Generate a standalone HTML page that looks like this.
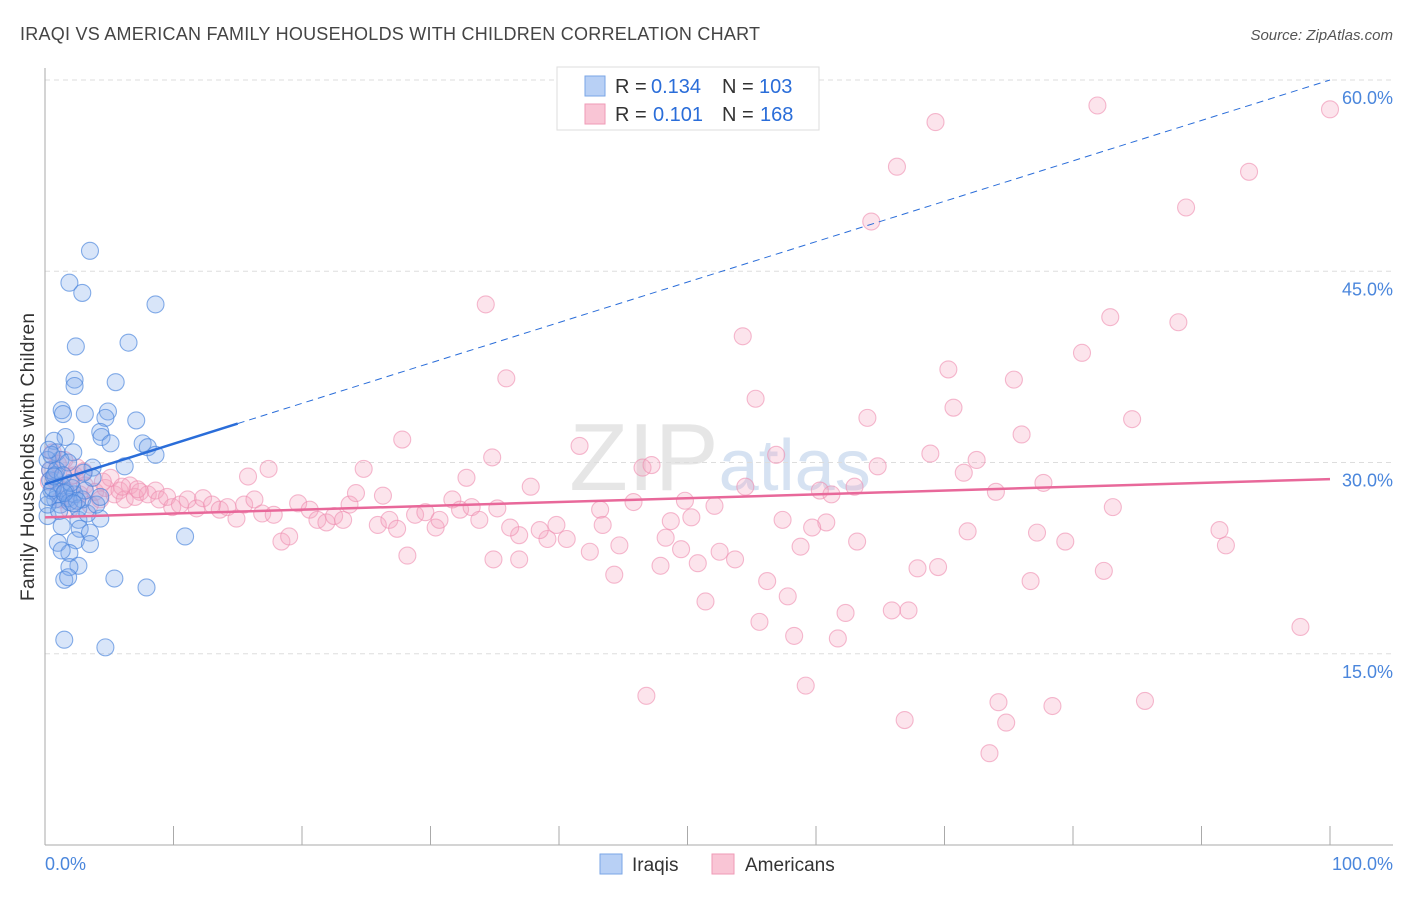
<!DOCTYPE html>
<html><head><meta charset="utf-8"><style>
body{margin:0;background:#fff;font-family:"Liberation Sans",sans-serif;}
svg text{font-family:"Liberation Sans",sans-serif;}
</style></head><body>
<svg id="chart" width="1406" height="892" viewBox="0 0 1406 892">
<text x="20" y="40" font-size="18" fill="#444" textLength="740">IRAQI VS AMERICAN FAMILY HOUSEHOLDS WITH CHILDREN CORRELATION CHART</text>
<text x="1393" y="40" font-size="15" fill="#555" text-anchor="end" font-style="italic">Source: ZipAtlas.com</text>
<text x="720" y="490" font-size="96" fill="#e6e6e6" text-anchor="middle" font-family="Liberation Serif">ZIP<tspan fill="#d6e2f2" font-family="Liberation Sans" font-size="72">atlas</tspan></text>
<g id="grid"></g>
<g id="axes"></g>
<g id="pts"></g>
<g id="trend"></g>
<text transform="translate(34,457) rotate(-90)" font-size="19" fill="#333" text-anchor="middle" textLength="288">Family Households with Children</text>
<g>
<rect x="557" y="67" width="262" height="63" fill="#fff" stroke="#ddd"/>
<rect x="585" y="76" width="20" height="20" fill="#b8d0f5" stroke="#7aa6e6"/>
<rect x="585" y="104" width="20" height="20" fill="#f9c5d5" stroke="#ef9ab6"/>
<text x="615" y="93" font-size="20" fill="#333">R =</text><text x="651" y="93" font-size="20" fill="#2a6dd9">0.134</text>
<text x="722" y="93" font-size="20" fill="#333">N =</text><text x="759" y="93" font-size="20" fill="#2a6dd9">103</text>
<text x="615" y="121" font-size="20" fill="#333">R =</text><text x="653" y="121" font-size="20" fill="#2a6dd9">0.101</text>
<text x="722" y="121" font-size="20" fill="#333">N =</text><text x="760" y="121" font-size="20" fill="#2a6dd9">168</text>
</g>
<g>
<rect x="600" y="854" width="22" height="20" fill="#b8d0f5" stroke="#7aa6e6"/>
<text x="632" y="871" font-size="19" fill="#333">Iraqis</text>
<rect x="712" y="854" width="22" height="20" fill="#f9c5d5" stroke="#ef9ab6"/>
<text x="745" y="871" font-size="19" fill="#333">Americans</text>
</g>
</svg>
<script>
const yTicks=[15,30,45,60];
const yTickLabels=["15.0%","30.0%","45.0%","60.0%"];
const xTickLabels=["0.0%","100.0%"];
const blueX=[3.5,1.9,2.9,8.6,6.5,2.4,2.3,2.3,5.5,1.3,1.4,3.1,4.9,4.7,7.1,1.6,4.3,4.4,5.1,7.6,8.0,0.7,0.9,8.6,2.2,6.2,3.7,0.4,1.2,4.3,2.6,1.3,2.7,3.5,2.4,1.0,3.5,1.9,1.3,2.6,1.9,1.5,1.8,5.4,7.9,10.9,1.5,4.7,0.2,0.4,0.5,0.8,1.0,1.2,1.3,1.6,1.8,1.9,2.1,2.3,2.6,2.9,3.1,3.3,3.7,4.0,4.3,0.8,0.2,0.5,0.9,1.8,0.2,0.3,0.6,1.1,1.4,2.0,2.5,3.0,0.3,0.7,1.5,2.2];
const blueY=[46.6,44.1,43.3,42.4,39.4,39.1,36.5,36.0,36.3,34.1,33.8,33.8,34.0,33.5,33.3,32.0,32.4,32.0,31.5,31.5,31.2,31.7,30.8,30.6,30.8,29.7,29.6,29.4,30.2,25.6,25.5,25.0,24.8,24.5,23.9,23.7,23.6,22.9,23.1,21.9,21.8,20.8,21.0,20.9,20.2,24.2,16.1,15.5,25.8,28.6,27.8,27.1,27.5,26.7,28.2,27.7,27.2,26.9,28.0,27.5,26.4,27.1,27.8,26.0,28.8,26.7,27.3,29.0,30.2,30.6,29.4,30.0,26.7,27.3,28.0,26.2,29.0,28.4,27.0,29.2,31.0,28.9,27.6,26.8];
const pinkX=[100,81.9,69.3,66.3,93.7,88.8,64.3,34.3,54.3,82.9,88.2,80.7,35.9,70.3,75.4,55.3,70.7,64.0,84.6,76.0,27.8,68.9,56.9,34.8,72.5,46.5,47.2,64.8,17.4,15.8,24.8,32.8,71.5,77.7,37.8,54.5,60.3,63.0,74.0,61.2,41.6,49.8,52.1,83.1,43.2,45.8,50.3,57.4,60.8,59.7,48.7,71.8,77.2,91.4,91.9,79.4,63.2,48.3,49.5,58.8,44.7,52.5,53.7,50.8,42.4,40.6,39.1,38.5,36.9,34.9,36.9,28.2,47.9,44.3,67.9,69.5,82.4,76.7,56.2,57.8,51.4,62.3,65.9,67.2,55.6,58.3,61.7,97.7,46.8,59.2,74.2,78.4,85.6,66.9,74.8,73.5,0.4,0.8,1.2,1.6,1.9,2.3,2.7,3.1,3.5,3.9,4.3,4.7,5.1,5.4,5.8,6.2,6.6,7.0,7.4,8.0,8.6,8.9,9.5,9.9,10.5,11.1,11.8,12.3,13.0,13.6,14.2,14.9,15.5,16.3,16.9,17.8,18.4,19.0,19.7,20.6,21.2,21.9,22.5,23.2,23.7,24.2,25.9,26.3,26.8,27.4,28.8,29.6,30.4,30.7,31.7,32.3,33.2,33.8,35.2,36.2,39.8,43.4,1.5,0.6,1.0,2.0,3.0,4.5,6.0,7.2,0.3,2.5];
const pinkY=[57.7,58.0,56.7,53.2,52.8,50.0,48.9,42.4,39.9,41.4,41.0,38.6,36.6,37.3,36.5,35.0,34.3,33.5,33.4,32.2,31.8,30.7,30.6,30.4,30.2,29.6,29.8,29.7,29.5,28.9,29.5,28.8,29.2,28.4,28.1,28.1,27.8,28.1,27.7,27.5,31.3,27.0,26.6,26.5,26.3,26.9,25.7,25.5,25.3,24.9,25.4,24.6,24.5,24.7,23.5,23.8,23.8,24.1,23.2,23.4,23.5,23.0,22.4,22.1,23.0,24.0,24.0,24.7,24.3,22.4,22.4,22.7,21.9,21.2,21.7,21.8,21.5,20.7,20.7,19.5,19.1,18.2,18.4,18.4,17.5,16.4,16.2,17.1,11.7,12.5,11.2,10.9,11.3,9.8,9.6,7.2,29.4,28.6,27.1,27.8,26.3,29.0,27.5,28.2,26.7,27.7,27.1,28.0,28.8,27.5,27.8,27.1,28.2,27.3,27.7,27.5,27.8,27.1,27.3,26.5,26.7,27.1,26.4,27.2,26.7,26.3,26.5,25.6,26.7,27.1,26.0,25.9,23.8,24.2,26.8,26.3,25.5,25.3,25.8,25.5,26.7,27.6,25.1,27.4,25.5,24.8,25.9,26.1,24.9,25.5,27.1,26.3,26.5,25.5,26.4,24.9,25.1,25.1,30.2,30.8,29.9,28.9,29.3,28.5,28.1,27.9,28.5,29.6];
const blueTrend=[28.3,60.0];
const pinkTrend=[25.7,28.7];
const NS="http://www.w3.org/2000/svg";
const X0=45,X1=1330,Y0=845,PPY=12.75;
function sx(v){return X0+(X1-X0)*v/100;}
function sy(v){return Y0-v*PPY;}
function mk(tag,attrs,parent){const e=document.createElementNS(NS,tag);for(const k in attrs)e.setAttribute(k,attrs[k]);parent.appendChild(e);return e;}
const grid=document.getElementById('grid'),axes=document.getElementById('axes'),pts=document.getElementById('pts'),trend=document.getElementById('trend');
yTicks.forEach((t,i)=>{
 const l=mk('line',{x1:X0,x2:1393,y1:sy(t),y2:sy(t),stroke:'#ddd','stroke-dasharray':'5,4'},grid);
 
 
 const tx=mk('text',{x:1393,y:sy(t)+24,'font-size':18,fill:'#4a86dc','text-anchor':'end'},axes);
 tx.textContent=yTickLabels[i];
 
 
});
mk('line',{x1:X0,x2:X0,y1:68,y2:Y0,stroke:'#aaa'},axes);
mk('line',{x1:X0,x2:1393,y1:Y0,y2:Y0,stroke:'#aaa'},axes);
for(let i=0;i<=10;i++){const t=mk('line',{x1:sx(i*10),x2:sx(i*10),y1:826,y2:Y0,stroke:'#aaa'},axes);
 
 }
const xl0=mk('text',{x:45,y:870,'font-size':18,fill:'#4a86dc'},axes);xl0.textContent=xTickLabels[0];


const xl1=mk('text',{x:1393,y:870,'font-size':18,fill:'#4a86dc','text-anchor':'end'},axes);xl1.textContent=xTickLabels[1];


pinkX.forEach((v,i)=>{const c=mk('circle',{cx:sx(v),cy:sy(pinkY[i]),r:8.5,fill:'rgba(244,165,192,0.3)',stroke:'rgba(238,140,175,0.6)','stroke-width':1.1},pts);
 
 });
blueX.forEach((v,i)=>{const c=mk('circle',{cx:sx(v),cy:sy(blueY[i]),r:8.5,fill:'rgba(125,170,235,0.3)',stroke:'rgba(70,130,220,0.65)','stroke-width':1.1},pts);
 
 });
function tv(tr,x){return tr[0]+(tr[1]-tr[0])*x/100;}
const pl=mk('line',{x1:sx(0),y1:sy(tv(pinkTrend,0)),x2:sx(100),y2:sy(tv(pinkTrend,100)),stroke:'#e8689a','stroke-width':2.5},trend);


const bd=mk('line',{x1:sx(15),y1:sy(tv(blueTrend,15)),x2:sx(100),y2:sy(tv(blueTrend,100)),stroke:'#2a6dd9','stroke-width':1,'stroke-dasharray':'7,5'},trend);


const bl=mk('line',{x1:sx(0),y1:sy(tv(blueTrend,0)),x2:sx(15),y2:sy(tv(blueTrend,15)),stroke:'#2a6dd9','stroke-width':2.5},trend);


</script>
</body></html>
